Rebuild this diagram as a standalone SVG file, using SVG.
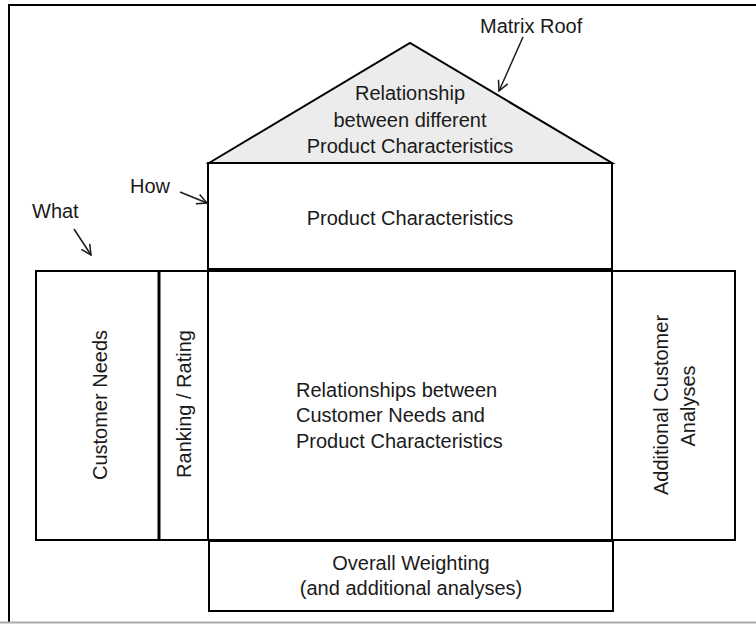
<svg xmlns="http://www.w3.org/2000/svg" width="756" height="624" viewBox="0 0 756 624">
<style>
.box{fill:#ffffff;stroke:#000;stroke-width:2}
.t{font-family:"Liberation Sans",Arial,sans-serif;font-size:20px;fill:#1a1a1a}
.c{text-anchor:middle}
.conn{stroke:#1a1a1a;stroke-width:1.5;fill:none}
</style>
<defs>
<marker id="v" viewBox="0 0 12 12" refX="11" refY="6" markerWidth="12" markerHeight="12" markerUnits="userSpaceOnUse" orient="auto">
<path d="M1,1 L11,6 L1,11" fill="none" stroke="#1a1a1a" stroke-width="1.5"/>
</marker>
</defs>
<rect x="0" y="0" width="756" height="624" fill="#ffffff"/>
<g id="frame">
<path d="M756,5 H9 V622" fill="none" stroke="#000" stroke-width="2"/>
<line x1="0" y1="622.5" x2="756" y2="622.5" stroke="#aaaaaa" stroke-width="2"/>
</g>
<g id="roof">
<polygon points="209,163 410,43 612,163" fill="#ececec" stroke="#000" stroke-width="2" stroke-linejoin="miter"/>
<text class="t c" x="410" y="100">Relationship</text>
<text class="t c" x="410" y="127">between different</text>
<text class="t c" x="410" y="153">Product Characteristics</text>
</g>
<g id="how">
<rect class="box" x="208" y="163" width="404" height="106"/>
<text class="t c" x="410" y="225">Product Characteristics</text>
</g>
<g id="customer-needs">
<rect class="box" x="36" y="271" width="123" height="269"/>
<text class="t c" transform="translate(107,405) rotate(-90)">Customer Needs</text>
</g>
<g id="ranking">
<rect class="box" x="159" y="271" width="49" height="269"/>
<line x1="159" y1="271" x2="159" y2="540" stroke="#000" stroke-width="3"/>
<text class="t c" transform="translate(191,404) rotate(-90)">Ranking / Rating</text>
</g>
<g id="relationships">
<rect class="box" x="208" y="271" width="404" height="269"/>
<text class="t" x="296" y="397">Relationships between</text>
<text class="t" x="296" y="422">Customer Needs and</text>
<text class="t" x="296" y="448">Product Characteristics</text>
</g>
<g id="additional">
<rect class="box" x="612" y="271" width="123" height="269"/>
<text class="t c" transform="translate(668,405) rotate(-90)">Additional Customer</text>
<text class="t c" transform="translate(695,406) rotate(-90)">Analyses</text>
</g>
<g id="weighting">
<rect class="box" x="209" y="541" width="404" height="70"/>
<text class="t c" x="411" y="570">Overall Weighting</text>
<text class="t c" x="411" y="595">(and additional analyses)</text>
</g>
<g id="labels">
<text class="t" x="480" y="33">Matrix Roof</text>
<text class="t" x="130" y="193">How</text>
<text class="t" x="32" y="218">What</text>
</g>
<g id="connectors">
<line class="conn" x1="523" y1="37" x2="499" y2="91" marker-end="url(#v)"/>
<line class="conn" x1="180" y1="192" x2="207" y2="203" marker-end="url(#v)"/>
<line class="conn" x1="74" y1="229" x2="91" y2="255" marker-end="url(#v)"/>
</g>
</svg>
